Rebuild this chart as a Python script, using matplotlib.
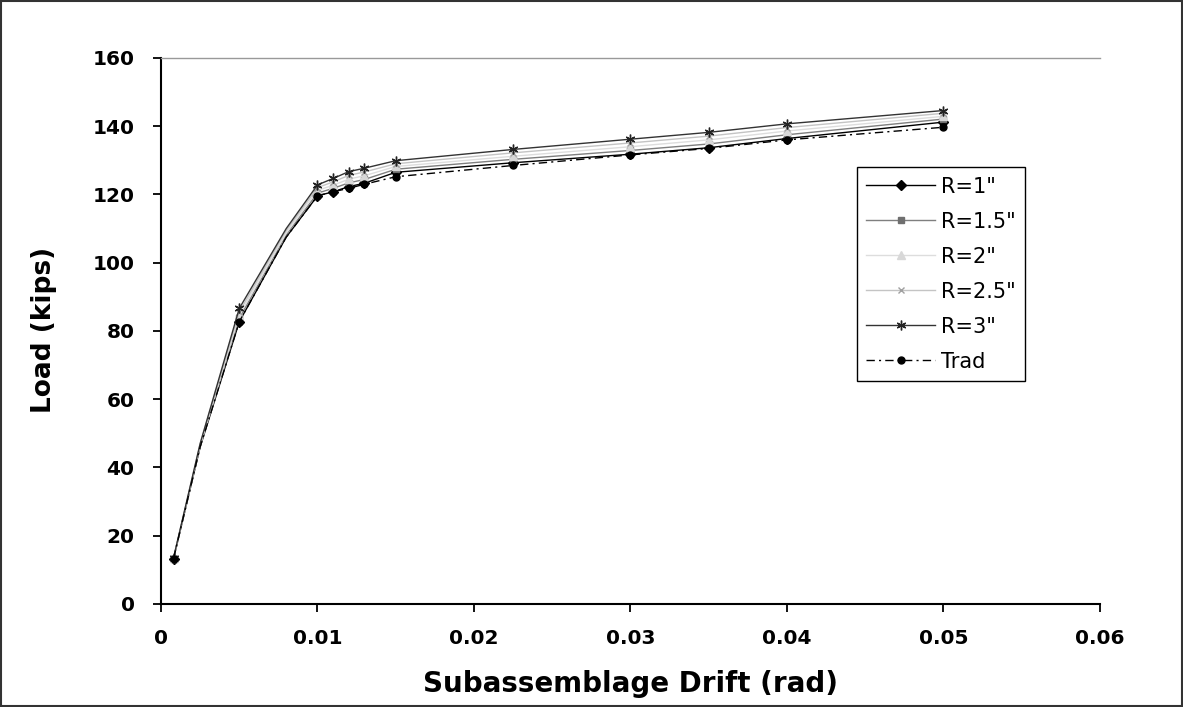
import matplotlib
matplotlib.use("Agg")
import matplotlib.pyplot as plt
from matplotlib.patches import Rectangle

plt.rcParams['font.family'] = ['DejaVu Sans']

drift = [0.0008, 0.0025, 0.005, 0.008, 0.010, 0.011, 0.012, 0.013, 0.015, 0.0225, 0.030, 0.035, 0.040, 0.050]
load_r1 = [13.3, 46.0, 82.7, 107.5, 119.6, 120.8, 122.3, 123.3, 126.5, 129.3, 131.8, 133.7, 136.4, 141.2]
load_r15 = [13.3, 46.2, 83.7, 108.1, 120.4, 121.8, 123.4, 124.4, 127.4, 130.3, 132.9, 134.8, 137.5, 142.1]
load_r2 = [13.4, 46.5, 84.6, 108.7, 121.2, 122.7, 124.5, 125.5, 128.2, 131.2, 134.0, 136.0, 138.6, 142.9]
load_r25 = [13.4, 46.8, 85.6, 109.4, 122.0, 123.7, 125.6, 126.6, 129.0, 132.2, 135.1, 137.1, 139.6, 143.8]
load_r3 = [13.5, 47.0, 86.6, 110.0, 122.8, 124.7, 126.7, 127.7, 129.9, 133.2, 136.2, 138.2, 140.7, 144.6]
load_trad = [13.3, 46.0, 82.7, 107.5, 119.6, 120.8, 121.8, 123.0, 125.2, 128.5, 131.6, 133.5, 136.0, 139.7]

series_labels = ['R=1"', 'R=1.5"', 'R=2"', 'R=2.5"', 'R=3"', 'Trad']
x_ticks = [0, 0.01, 0.02, 0.03, 0.04, 0.05, 0.06]
x_tick_labels = ['0', '0.01', '0.02', '0.03', '0.04', '0.05', '0.06']
y_ticks = [0, 20, 40, 60, 80, 100, 120, 140, 160]

# markers only on the recorded load steps (the intermediate shape points stay unmarked)
marked = [0, 2, 4, 5, 6, 7, 8, 9, 10, 11, 12, 13]

fig = plt.figure(figsize=(11.83, 7.07), dpi=100)
fig.patches.append(Rectangle((0.001, 0.001), 0.998, 0.998, transform=fig.transFigure,
                             fill=False, edgecolor='#333333', linewidth=1.5))
ax = fig.add_axes([0.1361, 0.1457, 0.7937, 0.7723])

styles = [
    dict(color='black', marker='D', markersize=5.5, mfc='black', mec='black'),
    dict(color='#7f7f7f', marker='s', markersize=5, mfc='#6f6f6f', mec='#6f6f6f'),
    dict(color='#dddddd', marker='^', markersize=6, mfc='#d8d8d8', mec='#d8d8d8'),
    dict(color='#c4c4c4', marker='x', markersize=5, mfc='#b0b0b0', mec='#a0a0a0'),
    dict(color='#333333', marker=(6, 2, 0), markersize=7, mfc='#222222', mec='#222222'),
    dict(color='black', marker='o', markersize=5, mfc='black', mec='black',
         linestyle=(0, (6, 3, 1.5, 3))),
]
series = [load_r1, load_r15, load_r2, load_r25, load_r3, load_trad]

for vals, lab, st in zip(series, series_labels, styles):
    ax.plot(drift, vals, label=lab, linewidth=1.0, markevery=marked, **st)

ax.set_xlim(0, 0.06)
ax.set_ylim(0, 160)
ax.set_xticks(x_ticks)
ax.set_xticklabels(x_tick_labels)
ax.set_yticks(y_ticks)

ax.spines['right'].set_visible(False)
ax.spines['top'].set_color('#999999')
ax.spines['top'].set_linewidth(1.0)
ax.spines['left'].set_linewidth(1.5)
ax.spines['bottom'].set_linewidth(1.5)
ax.tick_params(axis='both', direction='out', length=6, width=1.3, labelsize=14.5)
ax.tick_params(axis='x', pad=12)
ax.tick_params(axis='y', pad=13)
for t in ax.get_xticklabels() + ax.get_yticklabels():
    t.set_fontweight('bold')

ax.set_xlabel('Subassemblage Drift (rad)', fontsize=20, fontweight='bold')
ax.set_ylabel('Load (kips)', fontsize=19, fontweight='bold')
ax.xaxis.set_label_coords(0.5, -0.121)
ax.yaxis.set_label_coords(-0.111, 0.502)

leg = ax.legend(loc='upper left', bbox_to_anchor=(0.741, 0.800), fontsize=15,
                frameon=True, fancybox=False, edgecolor='black', framealpha=1,
                handlelength=3.3, handletextpad=0.3, labelspacing=0.72,
                borderpad=0.45, borderaxespad=0)
leg.get_frame().set_linewidth(1.0)

fig.savefig('out.png', dpi=100)
